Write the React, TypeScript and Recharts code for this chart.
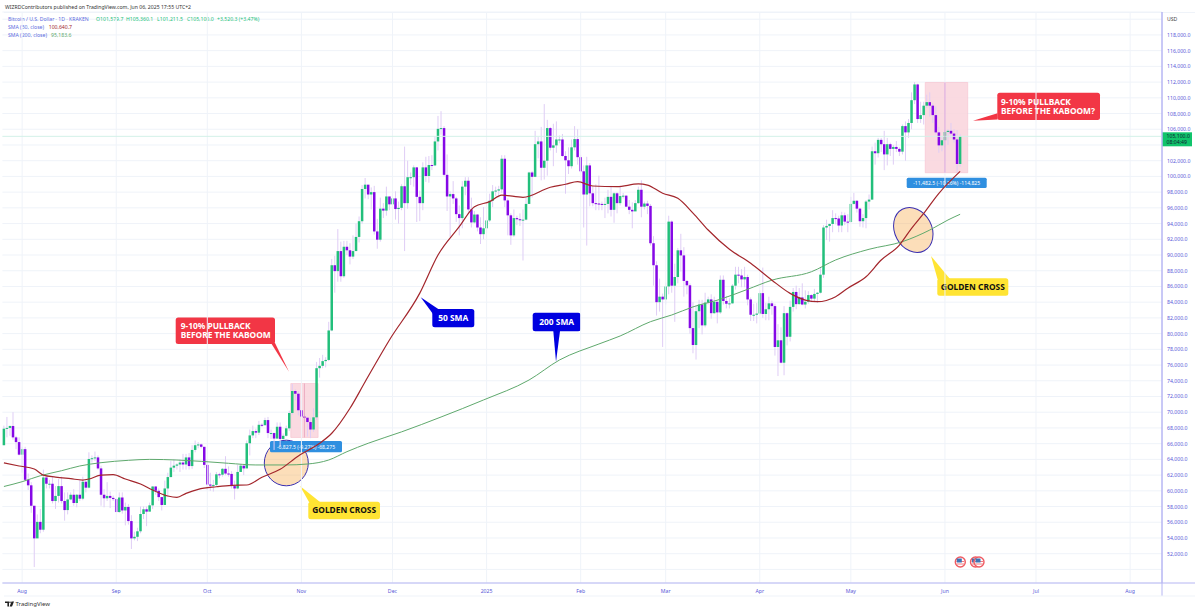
import React from 'react';
import { ComposedChart, Bar, Line, XAxis, YAxis, CartesianGrid, ReferenceArea, ReferenceLine } from 'recharts';

const closes = [
  67900,68000,68250,66800,66200,64600,
  65300,61400,60700,58100,53950,56050,55050,61700,60900,60900,58700,59350,60600,58700,57550,58900,59500,58450,59500,59000,61150,60400,64050,64150,64250,62850,59500,59050,59350,59100,58950,
  57300,59150,57500,57950,56150,53950,54150,54850,57050,57650,57350,58150,60550,60000,59200,58200,60300,61750,62950,63200,63350,63600,63350,64250,63150,65200,65800,65900,65600,63300,
  60800,60650,60750,62100,62050,62800,62200,62150,60600,60300,62400,63200,62850,66050,67050,67600,67400,68400,68350,69000,67350,67350,66650,68150,66600,67000,67950,69900,72700,72350,70250,
  69450,69300,68750,67800,69350,75600,75900,76500,76650,80400,88700,87950,90500,87300,91050,90600,89800,90500,92300,94300,98400,98950,97700,98000,93000,91950,95900,95650,97450,96450,
  97200,95850,96000,98750,96600,99900,99900,101150,97400,96600,101150,100050,101450,101400,104450,106050,106150,100200,97450,97750,97200,95200,94700,98700,99450,95800,94150,95150,93500,92650,93400,
  94400,96900,98100,98200,98350,102250,96950,95050,92500,94700,94550,94500,94500,96500,100500,99950,104100,104450,101100,102000,106150,103650,103950,104700,104700,102600,102050,101300,103700,104750,102450,
  100650,97700,101400,97850,96600,96550,96500,96450,96500,97400,95750,97850,96600,97500,97550,96150,95750,95550,96600,98300,96150,96550,96250,91500,88700,84000,84700,84350,
  86000,94250,86100,87200,90600,89950,86700,86150,80700,78550,82850,83700,81050,83950,84350,82600,84050,82700,86850,84150,83800,83850,86100,87500,87400,86900,87200,84350,82400,82400,82550,
  85150,82500,83100,83850,83500,78300,79150,76300,82600,79600,83400,85300,83750,84600,83700,84050,84900,84450,85050,85200,87500,93500,93700,93950,94700,94650,93750,95050,94250,94200,
  96500,96900,95900,94300,94700,96800,97050,103200,102950,104650,104100,102800,104100,103500,103750,103500,103150,106400,105600,106800,109700,111700,107300,107800,109000,109450,109000,107800,105600,103950,104600,
  105650,105800,105450,104700,101580,105100,
];
const highs = [
  68300,69400,68300,70000,67000,66800,
  65600,65600,62200,61100,55800,57000,57700,62700,61700,61400,61800,60600,61500,61800,59800,59800,59800,60200,59600,61400,61800,61400,64900,64500,65000,64500,63200,60200,61100,59900,59400,
  59000,59800,59800,58500,58300,56900,54800,55300,58000,58000,58000,58500,60600,60600,60300,59200,61300,62300,63800,64000,63500,64000,64700,64700,64800,65800,66400,66200,66000,65500,
  64000,62300,61400,62400,62300,62900,64400,63100,62500,61300,63300,63400,63200,66400,67800,68300,67900,68900,68600,69300,69400,67800,67400,68700,68700,67300,68300,70200,73600,72900,72700,
  71500,69900,69300,69300,70500,76400,76900,77300,77000,81500,89500,89900,93300,91700,91800,91800,91500,92500,94000,94900,98900,99800,98700,98600,98800,94600,97300,96600,98700,97400,
  97800,98100,96800,99000,103800,102000,100500,101400,101200,98200,101800,102500,102600,102700,105100,107700,108300,106400,102800,98100,99400,97400,96300,99400,99900,99900,97300,95600,95200,94800,96100,
  94900,97800,98900,98700,98800,102700,102700,97200,95300,95800,95000,95300,95800,97300,100600,100700,105800,105000,106300,109200,107200,106300,106700,107000,105200,105400,103200,103700,104700,106400,106000,
  102700,101400,102500,101700,98800,99000,100100,96800,97300,98300,98800,98000,98000,98800,97900,97600,97000,96700,97000,98700,99500,96800,96900,96500,92400,89200,87000,85100,
  86500,95000,94400,88900,90900,92700,91000,86800,86400,84000,83600,84300,84300,85200,84700,85000,84700,84000,87400,87400,84800,84500,86300,88500,88500,88200,88500,87500,84600,83800,83900,
  85500,88400,83900,84700,84200,83800,81200,80800,83500,82700,84200,85800,86100,85800,86400,85500,85400,85000,85700,85300,88500,93800,94500,94000,95700,95300,95000,95500,95400,95200,
  97400,97900,97000,96000,95200,97000,97700,103800,104300,104900,104900,105800,104900,104300,104000,104500,103700,106600,107000,107300,110700,112000,111800,109500,109500,110400,110700,109300,108900,106300,105000,
  105900,106000,106800,106000,105900,105360,
];
const lows = [
  65800,66800,67000,66500,65300,64500,
  62300,61200,60100,57200,50300,54300,54600,54800,60300,60300,58400,57700,58500,58400,56200,57000,58800,58100,57900,58700,58800,59800,60300,63600,63800,62700,58100,57900,58700,57800,58700,
  57300,57200,57100,55600,55700,52600,53700,53600,54600,56400,55500,57400,57700,59500,58700,57500,58200,59200,61700,62400,62700,62400,62700,62700,62700,62800,64900,65400,65400,62900,
  60100,60000,59900,60500,61600,61800,62000,61800,60300,58900,60200,62400,62000,62900,64500,66700,66700,67100,68100,68300,66700,66600,65200,66600,65700,66500,66900,67600,69700,71500,69600,
  68800,68800,66900,66700,67500,69000,74400,75600,75700,76500,80300,85200,86600,86600,87100,90000,88800,89500,90700,91600,94000,97200,97100,95800,92600,90800,91700,94700,95000,95700,
  95700,94500,94000,95700,90500,95900,98900,98700,94200,94300,95700,99300,99200,100800,101300,103300,105300,100000,95600,92300,96500,94200,92500,93400,97600,95200,93500,94000,93000,91400,92000,
  92800,94200,96100,97500,97300,97900,96100,92500,91300,92300,93800,93700,89300,94400,96500,97300,99900,102300,99500,99600,100100,103300,101300,103000,104200,102500,97800,100300,101000,103300,101500,
  100400,93500,91200,96200,96200,95700,95700,95700,94700,95300,94900,94100,95300,96300,97200,96100,95200,93400,95700,96500,94800,95800,95200,91200,86100,82300,82800,78300,
  83700,85000,85200,81500,86400,87900,84700,85000,80000,77500,76700,80700,79900,80800,83700,81900,82500,81300,82500,83700,83200,83200,83800,85600,86400,85900,85900,83600,81600,81600,81300,
  82400,82000,81700,81700,82400,77200,74600,76200,74700,78500,79000,82800,83100,83700,83600,83200,83800,84000,84000,83900,85100,87100,91900,91700,92900,93900,92900,92900,93800,92900,
  94100,96400,95400,93600,93500,93400,95800,97000,101500,102400,103100,100800,101400,102600,101500,103100,102600,102800,102000,104900,106000,109200,106800,106800,106600,108700,107600,106800,105300,103000,103200,
  103700,104000,104900,104300,100500,101212,
];
const firstOpen = 65800;

// Moving averages at the days listed beside them
const sma50Days = [0,5,10,13,17,22,26,28,32,36,40,45,49,54,57,60,64,70,75,80,85,91,97,104,108,114,119,127,137,143,150,155,160,164,171,180,185,189,194,202,209,212,217,222,227,232,239,246,253,259,264,268,274,278,284,289,295,299,303,308,315];
const sma50Values = [63550,63160,62770,62000,61750,61540,61370,61500,62000,62050,61500,60870,60100,59340,59170,59680,60190,60520,60700,60740,61720,62740,64430,66040,67320,70500,73880,79190,85150,90000,93600,96150,96790,97630,97340,98620,99000,99330,98780,98700,99040,98900,97850,97210,95340,93180,90730,88950,86800,85120,84270,84060,84700,85780,87240,89360,91270,93400,95300,97850,100640];
const sma200Days = [0,6,12,19,25,32,41,48,57,65,74,83,93,100,107,113,120,131,144,158,173,183,196,203,213,220,227,236,245,253,266,274,285,296,305,311,315];
const sma200Values = [60550,61160,61920,62560,63160,63580,63880,64000,63920,63750,63500,63290,63290,63410,63920,64980,66050,67500,69390,71560,74100,76640,78680,79700,81520,82370,83400,84370,85640,86800,87870,89370,90730,91700,93180,94460,95183];

const lastDay = 381;
const monthTickDays = [6,37,67,98,128,159,190,218,249,279,310,340,371];
const monthTickLabels = ['Aug','Sep','Oct','Nov','Dec','2025','Feb','Mar','Apr','May','Jun','Jul','Aug'];
const priceTicks = [50000,52000,54000,56000,58000,60000,62000,64000,66000,68000,70000,72000,74000,76000,78000,80000,82000,84000,86000,88000,90000,92000,94000,96000,98000,100000,102000,104000,106000,108000,110000,112000,114000,116000,118000,120000];

const table = Array.from({ length: lastDay + 1 }, (_, day) => {
  const row: any = { day };
  if (day < closes.length) {
    row.open = day === 0 ? firstOpen : closes[day - 1];
    row.close = closes[day];
    row.high = highs[day];
    row.low = lows[day];
    row.range = [lows[day], highs[day]];
  }
  const a = sma50Days.indexOf(day);
  if (a >= 0) row.sma50 = sma50Values[a];
  const b = sma200Days.indexOf(day);
  if (b >= 0) row.sma200 = sma200Values[b];
  return row;
});

const UP = '#22bf7b';
const DOWN = '#8508e6';
const WICK = '#dfcdf5';
const AXIS_BLUE = '#5757d8';
const AXIS_LINE = '#b6b6f3';
const GRID = '#eff3f9';
const FONT = '"Noto Sans", sans-serif';

const Candle = (props: any) => {
  const { x, y, width, height, payload } = props;
  if (payload == null || payload.close == null) return null;
  const k = height / (payload.high - payload.low || 1);
  const cx = x + width / 2;
  const top = y + (payload.high - Math.max(payload.open, payload.close)) * k;
  const bottom = y + (payload.high - Math.min(payload.open, payload.close)) * k;
  return (
    <g>
      <line x1={cx} x2={cx} y1={y} y2={y + height} stroke={WICK} strokeWidth={1} />
      <rect x={cx - 1.25} y={top} width={2.5} height={Math.max(bottom - top, 1)} fill={payload.close >= payload.open ? UP : DOWN} />
    </g>
  );
};

const PriceTick = (props: any) => {
  const { x, y, payload } = props;
  if (payload.value === 50000 || payload.value === 104000) return null;
  const usd = payload.value === 120000;
  return (
    <text x={x - 1} y={y} dy={2} fontSize={5.15} fontFamily={FONT} fill={usd ? '#444' : AXIS_BLUE}>
      {usd ? 'USD' : payload.value.toLocaleString('en-US', { minimumFractionDigits: 1 })}
    </text>
  );
};

const Callout = ({ x, y, w, h, tail, fill, color, lines, size = 8.4, anchor = 'middle', tx }: any) => (
  <g fontFamily={FONT} fontWeight={700}>
    <polygon points={tail} fill={fill} />
    <rect x={x} y={y} width={w} height={h} rx={2.5} fill={fill} />
    {lines.map((t: string, i: number) => (
      <text
        key={t}
        x={tx ?? x + w / 2}
        y={y + h / 2 + 3 + (i - (lines.length - 1) / 2) * 9.4}
        textAnchor={anchor}
        fontSize={size}
        fill={color}
      >
        {t}
      </text>
    ))}
  </g>
);

const Badge = ({ x, y, w, h, text }: any) => (
  <g>
    <rect x={x} y={y} width={w} height={h} rx={1.5} fill="#2f8fe0" />
    <text x={x + w / 2} y={y + h / 2 + 1.9} textAnchor="middle" fontSize={5.1} fontFamily={FONT} fill="#fff">{text}</text>
  </g>
);

const Flag = ({ cx, cy, r }: any) => (
  <g>
    <circle cx={cx} cy={cy} r={r} fill="#fff" stroke="#ef5a62" strokeWidth={1.4} />
    <rect x={cx - r + 1} y={cy - 1} width={2 * r - 2} height={1} fill="#ef7d84" />
    <rect x={cx - r + 1} y={cy + 1.5} width={2 * r - 2} height={1} fill="#ef7d84" />
    <rect x={cx - r + 1.5} y={cy - r + 1.5} width={r} height={r - 1} fill="#3f74b5" />
  </g>
);

export default function App() {
  return (
    <div style={{ position: 'absolute', left: 0, top: 0, width: 1199, height: 612, overflow: 'hidden', background: '#fff' }}>
      <ComposedChart width={1199} height={612} data={table} margin={{ top: 12, right: 0, bottom: 0, left: 2.4 }} barCategoryGap={0}>
        <CartesianGrid vertical={false} stroke={GRID} strokeWidth={1} />
        {monthTickDays.map((d) => (
          <ReferenceLine key={d} x={d} stroke={GRID} strokeWidth={1} />
        ))}
        <XAxis
          dataKey="day"
          type="category"
          ticks={monthTickDays}
          interval={0}
          height={29}
          tickLine={false}
          tickMargin={0}
          stroke={AXIS_LINE}
          tick={{ fontSize: 5.2, fontFamily: FONT, fill: AXIS_BLUE }}
          tickFormatter={(d: number) => monthTickLabels[monthTickDays.indexOf(d)] ?? ''}
        />
        <YAxis
          orientation="right"
          width={37}
          domain={[48272, 120918]}
          allowDataOverflow
          ticks={priceTicks}
          interval={0}
          tickLine={false}
          tickMargin={0}
          stroke={AXIS_LINE}
          tick={<PriceTick />}
        />
        <ReferenceLine y={105100} stroke="#d3f1e8" strokeWidth={1} />
        <ReferenceArea x1={95} x2={103} y1={66790} y2={73650} fill="#f9d3dc" fillOpacity={0.85} stroke="#f6bfcc" strokeWidth={0.6} />
        <ReferenceLine segment={[{ x: 99, y: 66790 }, { x: 99, y: 73650 }]} stroke="#e79ab5" strokeWidth={0.7} />
        <ReferenceArea x1={304} x2={317} y1={100470} y2={111950} fill="#f9d3dc" fillOpacity={0.85} stroke="#f6bfcc" strokeWidth={0.6} />
        <ReferenceLine segment={[{ x: 310, y: 100470 }, { x: 310, y: 111950 }]} stroke="#d98ad0" strokeWidth={0.8} />

        <ellipse cx={286.3} cy={463} rx={22} ry={22.8} fill="#f7a848" fillOpacity={0.38} stroke="#3a2fb0" strokeWidth={1} />
        <ellipse cx={913.3} cy={230} rx={18.5} ry={23.5} transform="rotate(-28 913.3 230)" fill="#f7a848" fillOpacity={0.38} stroke="#3a2fb0" strokeWidth={1} />

        <Badge x={270} y={441} w={72} h={11.3} text="-6,827.5 (-9.27%) -68,275" />
        <Badge x={906.7} y={177.7} w={80} h={10.4} text="-11,482.5 (-10.26%) -114,825" />

        <Bar dataKey="range" shape={<Candle />} isAnimationActive={false} />
        <Line dataKey="sma200" type="monotone" connectNulls dot={false} stroke="#5fa96d" strokeWidth={1} isAnimationActive={false} />
        <Line dataKey="sma50" type="monotone" connectNulls dot={false} stroke="#a3262c" strokeWidth={1.2} isAnimationActive={false} />

        <Callout x={175.7} y={317.5} w={99.3} h={26.5} fill="#f23645" color="#fff" tail="271,343 275,343 289,371.7" lines={['9-10% PULLBACK', 'BEFORE THE KABOOM']} anchor="start" tx={180.7} />
        <Callout x={997.3} y={92.7} w={102.7} h={27.3} fill="#f23645" color="#fff" tail="997.5,113.3 997.5,119.5 973,120.7" lines={['9-10% PULLBACK', 'BEFORE THE KABOOM?']} anchor="start" tx={1001} />
        <Callout x={432.3} y={309} w={42} h={18.3} fill="#0000e0" color="#fff" tail="433,314 439,309.5 420.7,297.3" lines={['50 SMA']} />
        <Callout x={532.7} y={312.7} w={48} h={18.6} fill="#0000e0" color="#fff" tail="553.3,331 560,331 556,361.7" lines={['200 SMA']} />
        <Callout x={308.3} y={501.7} w={71.7} h={17.5} fill="#ffe433" color="#111" tail="300,486 309,502 320,502" lines={['GOLDEN CROSS']} />
        <Callout x={937.3} y={278.3} w={71} h={17.5} fill="#ffe433" color="#111" tail="931,256 937.5,279 950,279" lines={['GOLDEN CROSS']} />

        <rect x={1162} y={132.3} width={30} height={14} fill="#10c46b" />
        <text x={1166.5} y={138} fontSize={5.15} fontFamily={FONT} fill="#123">105,100.0</text>
        <text x={1166.5} y={144.4} fontSize={5.15} fontFamily={FONT} fill="#123">08:04:49</text>

        <Flag cx={960.3} cy={562} r={5} />
        <Flag cx={975.5} cy={562} r={5} />
        <Flag cx={979} cy={562} r={5} />

        <line x1={4} x2={1195} y1={12.5} y2={12.5} stroke={GRID} />
        <line x1={1162} x2={1162} y1={12} y2={596} stroke={AXIS_LINE} />
        <line x1={1162} x2={1195} y1={583} y2={583} stroke={AXIS_LINE} />
        <line x1={4} x2={1195} y1={596} y2={596} stroke={GRID} />

        <g fontFamily={FONT} fontSize={5.15}>
          <text x={5} y={8.8} fill="#333">WIZRDContributors published on TradingView.com, Jun 06, 2025 17:55 UTC+2</text>
          <text x={8} y={21} fill="#5b6be0">Bitcoin / U.S. Dollar · 1D · KRAKEN</text>
          <text y={21} fill="#22bf7b">
            <tspan x={96}>O101,579.7</tspan>
            <tspan x={126}>H105,360.1</tspan>
            <tspan x={157}>L101,211.5</tspan>
            <tspan x={187}>C105,100.0</tspan>
            <tspan x={217}>+3,520.3 (+3.47%)</tspan>
          </text>
          <text x={8} y={28.8} fill="#5b6be0">SMA (50, close)</text>
          <text x={48.7} y={28.8} fill="#a4262c">100,640.7</text>
          <text x={8} y={36.5} fill="#5b6be0">SMA (200, close)</text>
          <text x={51} y={36.5} fill="#5fa96d">95,183.6</text>
          <polygon points="5,601.5 9,601.5 9,606.5 7.4,606.5 7.4,603 5,603" fill="#222" />
          <circle cx={10} cy={602.3} r={0.8} fill="#222" />
          <polygon points="11.5,601.5 14,601.5 12,606.5 9.6,606.5" fill="#222" />
          <text x={15.5} y={606.3} fontSize={6} fill="#333">TradingView</text>
        </g>
      </ComposedChart>
    </div>
  );
}
